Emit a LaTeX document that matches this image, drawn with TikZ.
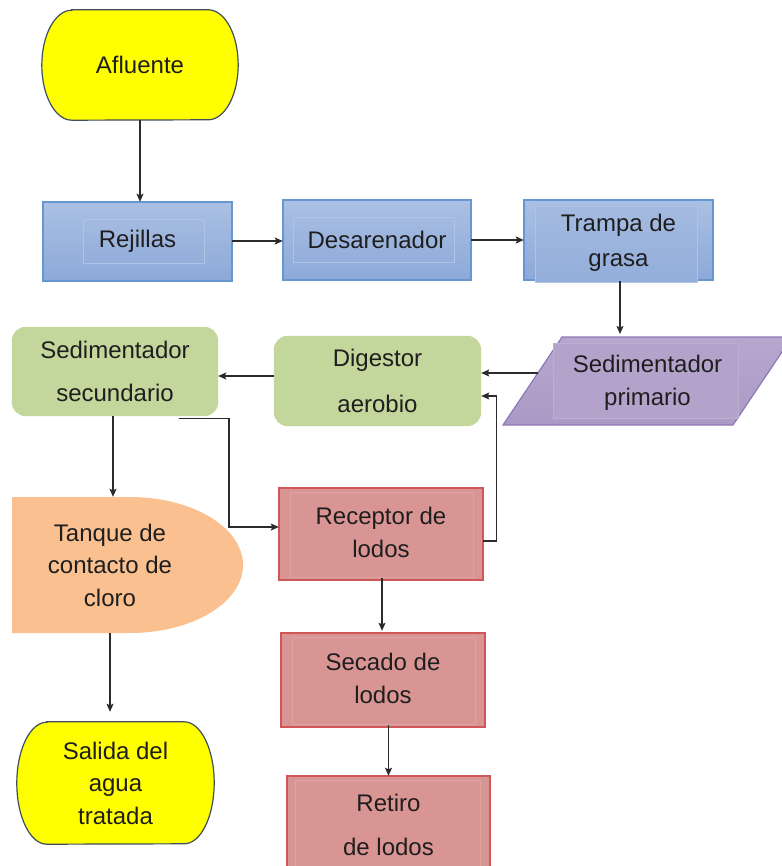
\documentclass[tikz,border=0pt]{standalone}
\usepackage{fontspec}
\setmainfont{Liberation Sans}
\usetikzlibrary{arrows.meta,calc,backgrounds}
\definecolor{ylw}{HTML}{FFFF00}
\definecolor{termb}{HTML}{3E4E5C}
\definecolor{bluetop}{HTML}{AAC0E3}
\definecolor{bluebot}{HTML}{8DA9D8}
\definecolor{blueln}{HTML}{6797D3}
\definecolor{blueintop}{HTML}{A4BAE0}
\definecolor{blueinbot}{HTML}{93AEDB}
\definecolor{blueinl}{HTML}{AFC3E5}
\definecolor{grn}{HTML}{C3D69B}
\definecolor{purtop}{HTML}{B7A7CE}
\definecolor{purbot}{HTML}{AB99C5}
\definecolor{purln}{HTML}{9277B6}
\definecolor{purin}{HTML}{B3A3CB}
\definecolor{purinl}{HTML}{BDAED3}
\definecolor{redf}{HTML}{D99594}
\definecolor{redln}{HTML}{CD5857}
\definecolor{redinl}{HTML}{DEA2A1}
\definecolor{orng}{HTML}{FAC08F}
\definecolor{txt}{HTML}{1E1E1E}
\definecolor{arrc}{HTML}{2B2B2B}
\begin{document}
\begin{tikzpicture}[x=1pt,y=1pt,
  base/.style={align=center,text=txt,inner sep=0pt,font=\fontsize{24}{33}\selectfont},
  termshape/.style={fill=ylw,draw=termb,line width=1.2pt},
  blueshape/.style={draw=blueln,line width=1.2pt,top color=bluetop,bottom color=bluebot},
  blueinner/.style={draw=blueinl,line width=0.8pt,top color=blueintop,bottom color=blueinbot},
  redshape/.style={draw=redln,line width=1.2pt,fill=redf},
  redinner/.style={draw=redinl,line width=1pt,fill=redf},
  grnshape/.style={fill=grn,rounded corners=14pt},
  arr/.style={draw=arrc,line width=1.3pt,-{Stealth[length=8pt,width=7pt,inset=1.5pt]}}]
\useasboundingbox (0,0) rectangle (781,-866);
\clip (0,0) rectangle (781,-866);

% nodes (text)
\node[base,minimum width=196pt,minimum height=110pt] (afl) at (140,-65) {Afluente};
\node[base,minimum width=189pt,minimum height=79pt] (rej) at (137.5,-241.5) {Rejillas};
\node[base,minimum width=188pt,minimum height=80pt] (des) at (377,-240) {Desarenador};
\node[base,minimum width=189pt,minimum height=80pt,font=\fontsize{24}{35}\selectfont] (tra) at (618.5,-243) {Trampa de\\grasa};
\node[base,minimum width=230pt,minimum height=88pt] (sp) at (647.5,-383) {Sedimentador\\primario};
\node[base,minimum width=207pt,minimum height=90pt,font=\fontsize{24}{46}\selectfont] (dig) at (377.5,-381) {Digestor\\aerobio};
\node[base,minimum width=206pt,minimum height=89pt,font=\fontsize{24}{43}\selectfont] (ss) at (115,-371.5) {Sedimentador\\secundario};
\node[base,minimum width=196pt,minimum height=136pt,font=\fontsize{24}{32.5}\selectfont] (tan) at (110,-565) {Tanque de\\contacto de\\cloro};
\node[base,minimum width=204pt,minimum height=92pt] (rec) at (381,-532) {Receptor de\\lodos};
\node[base,minimum width=204pt,minimum height=94pt] (sec) at (383,-678) {Secado de\\lodos};
\node[base,minimum width=203pt,minimum height=98pt,font=\fontsize{24}{44}\selectfont] (ret) at (388.5,-825) {Retiro\\de lodos};
\node[base,minimum width=197pt,minimum height=122pt,font=\fontsize{24}{32.5}\selectfont] (sal) at (115.5,-783) {Salida del\\agua\\tratada};

\begin{scope}[on background layer]
  % terminators
  \path[termshape] ($(afl.north west)+(30,0)$) -- ($(afl.north east)+(-30,0)$)
    arc[start angle=90,end angle=-90,x radius=30,y radius=55]
    -- ($(afl.south west)+(30,0)$)
    arc[start angle=270,end angle=90,x radius=30,y radius=55] -- cycle;
  \path[termshape] ($(sal.north west)+(30,0)$) -- ($(sal.north east)+(-30,0)$)
    arc[start angle=90,end angle=-90,x radius=30,y radius=61]
    -- ($(sal.south west)+(30,0)$)
    arc[start angle=270,end angle=90,x radius=30,y radius=61] -- cycle;
  % blue boxes
  \path[blueshape] (43,-202) rectangle (232,-281);
  \path[blueinner] (83,-219) rectangle (204,-263);
  \path[blueshape] (283,-200) rectangle (471,-280);
  \path[blueinner] (293,-217) rectangle (454,-262);
  \path[blueshape] (524,-200) rectangle (713,-280);
  \path[blueinner] (535,-206) rectangle (697,-282);
  % purple parallelogram
  \path[draw=purln,line width=1.2pt,top color=purtop,bottom color=purbot]
    ($(sp.center)+(-85.5,46)$) -- ($(sp.center)+(144.5,46)$)
    -- ($(sp.center)+(85.5,-42)$) -- ($(sp.center)+(-144.5,-42)$) -- cycle;
  \path[fill=purin,draw=purinl,line width=0.8pt] (553,-343) rectangle (738,-418);
  % green boxes
  \path[grnshape] (dig.north west) rectangle (dig.south east);
  \path[grnshape] (ss.north west) rectangle (ss.south east);
  % orange tank
  \path[fill=orng] (12,-497) -- (130,-497)
    arc[start angle=90,end angle=-90,x radius=113,y radius=68]
    -- (12,-633) -- cycle;
  % red boxes
  \path[redshape] (279,-488) rectangle (483,-580);
  \path[redinner] (290,-492) rectangle (473,-577);
  \path[redshape] (281,-633) rectangle (485,-727);
  \path[redinner] (292,-637) rectangle (475,-724);
  \path[redshape] (287,-776) rectangle (490,-880);
  \path[redinner] (295,-780) rectangle (480,-880);
\end{scope}

% connectors
\draw[arr] (afl.south) -- (afl.south |- rej.north);
\draw[arr] ([yshift=0.5pt]rej.east) -- ([yshift=0.5pt]rej.east -| des.west);
\draw[arr] (des.east) -- (des.east -| tra.west);
\draw[arr] (620,-281) -- (620,-334);
\draw[arr] ([xshift=5.5pt,yshift=10pt]sp.west) -- ([yshift=8pt]dig.east);
\draw[arr] ([yshift=5pt]dig.west) -- ([yshift=5pt]dig.west -| ss.east);
\draw[arr] ([xshift=-2pt]ss.south) -- ([xshift=-2pt]ss.south |- tan.north);
\draw[arr] ([xshift=64pt,yshift=-2pt]ss.south) -- ++(50,0) |- ([yshift=5pt]rec.west);
\draw[arr] ([yshift=-9pt]rec.east) -- ++(13,0) |- ([yshift=-15pt]dig.east);
\draw[arr] ([xshift=1pt]rec.south) -- ([xshift=1pt]rec.south |- sec.north);
\draw[arr] (ret.north |- sec.south) -- (ret.north);
\draw[arr,shorten >=10pt] (tan.south) -- (tan.south |- sal.north);
\end{tikzpicture}
\end{document}
